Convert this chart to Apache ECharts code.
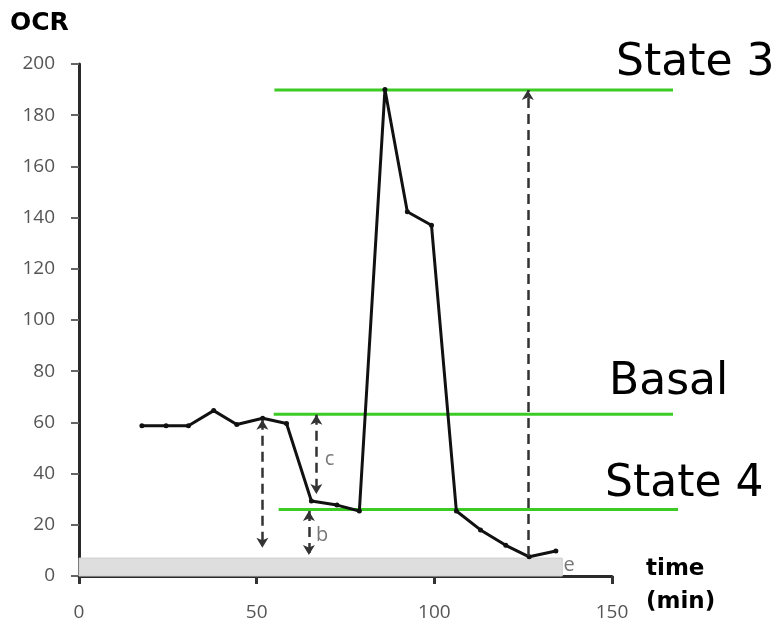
<!DOCTYPE html>
<html>
<head>
<meta charset="utf-8">
<script src="https://cdn.jsdelivr.net/npm/echarts@6/dist/echarts.min.js"></script>
<style>
    html, body { margin: 0; padding: 0; background: #fff; }
    #chart { width: 777px; height: 622px; }
</style>
</head>
<body>
<div id="chart"></div>
<script>
// OCR trace (time in min, OCR value)
const timeMin = [17.7, 24.5, 30.8, 37.9, 44.4, 51.7, 58.4, 65.4, 72.6, 78.9, 86.1, 92.4, 99.2, 106.2, 113, 120.1, 126.7, 134.2];
const ocrValues = [58.7, 58.7, 58.7, 64.6, 59.2, 61.6, 59.6, 29.3, 27.7, 25.4, 190, 142.3, 137, 25.4, 18, 12, 7.5, 9.8];

// reference levels (drawn past the end of the time axis)
const levelNames = ['State 3', 'Basal', 'State 4'];
const levelValues = [189.8, 63.2, 26.0];
const levelStart = [55.0, 54.8, 56.2];
const levelEnd = [167.2, 167.2, 168.6];

// dashed arrows: x, yFrom, yTo, both heads?
const arrowX = [51.6, 66.8, 64.7, 126.3];
const arrowFrom = [61, 63, 25.4, 7.8];
const arrowTo = [11, 32, 8.2, 189.8];
const arrowBoth = [true, true, true, false];

// small letter labels
const letterText = ['c', 'b', 'e'];
const letterX = [70.5, 68.4, 137.9];
const letterY = [45.7, 16, 4.3];

// grey background band
const bandEndX = 136;
const bandTopY = 7;

const chart = echarts.init(document.getElementById('chart'));

// same scale as the main axes, but wider so the level lines can run on
const greenSeries = levelNames.map((name, i) => ({
    type: 'line',
    name: name,
    xAxisIndex: 1,
    yAxisIndex: 1,
    silent: true,
    symbol: 'none',
    z: 3,
    lineStyle: { color: '#3ccb25', width: 3 },
    data: [[levelStart[i], levelValues[i]], [levelEnd[i], levelValues[i]]]
}));

const arrowLines = arrowX.map((x, i) => [
    { coord: [x, arrowFrom[i]], symbol: arrowBoth[i] ? 'arrow' : 'none' },
    { coord: [x, arrowTo[i]], symbol: 'arrow' }
]);

const bigFont = '44px "DejaVu Sans"';

const option = {
    animation: false,
    grid: [
        { left: 79, top: 64, right: 165, bottom: 46 },
        { left: 79, top: 64, right: 94, bottom: 46 }
    ],
    xAxis: [
        {
            type: 'value',
            gridIndex: 0,
            min: 0,
            max: 150,
            interval: 50,
            splitLine: { show: false },
            axisLine: { show: true, lineStyle: { color: '#2a2a2a', width: 3 } },
            axisTick: { show: true, length: 8, lineStyle: { color: '#333', width: 3 } },
            axisLabel: { color: '#555', fontSize: 19, fontFamily: 'Open Sans', margin: 27 }
        },
        {
            type: 'value',
            gridIndex: 1,
            min: 0,
            max: 170,
            show: false
        }
    ],
    yAxis: [
        {
            type: 'value',
            gridIndex: 0,
            min: 0,
            max: 200,
            interval: 20,
            splitLine: { show: false },
            axisLine: { show: true, lineStyle: { color: '#2a2a2a', width: 3 } },
            axisTick: { show: true, length: 8, lineStyle: { color: '#666', width: 2 } },
            axisLabel: { color: '#555', fontSize: 19, fontFamily: 'Open Sans', margin: 24 }
        },
        {
            type: 'value',
            gridIndex: 1,
            min: 0,
            max: 200,
            show: false
        }
    ],
    graphic: [
        { type: 'text', left: 10, top: 11, style: { text: 'OCR', font: 'bold 25px "DejaVu Sans"', fill: '#000' } },
        { type: 'text', left: 646, top: 553, style: { text: 'time\n(min)', font: 'bold 23px "DejaVu Sans"', lineHeight: 33, fill: '#000' } },
        { type: 'text', left: 616, top: 42, style: { text: levelNames[0], font: bigFont, fill: '#000' } },
        { type: 'text', left: 609, top: 361, style: { text: levelNames[1], font: bigFont, fill: '#000' } },
        { type: 'text', left: 605, top: 463, style: { text: levelNames[2], font: bigFont, fill: '#000' } }
    ],
    series: [
        {
            type: 'line',
            name: 'OCR',
            z: 4,
            symbol: 'circle',
            symbolSize: 5,
            itemStyle: { color: '#111' },
            lineStyle: { color: '#111', width: 3 },
            data: timeMin.map((t, i) => [t, ocrValues[i]]),
            markArea: {
                silent: true,
                itemStyle: { color: '#dedede', borderColor: '#cfcfcf', borderWidth: 1 },
                data: [[{ coord: [0, 0] }, { coord: [bandEndX, bandTopY] }]]
            }
        },
        ...greenSeries,
        {
            type: 'line',
            name: 'arrows',
            data: [],
            z: 2,
            markLine: {
                silent: true,
                symbolSize: [9, 10],
                label: { show: false },
                lineStyle: { color: '#333', width: 2.5, type: [10, 6] },
                data: arrowLines
            }
        },
        {
            type: 'scatter',
            name: 'letters',
            symbolSize: 0,
            silent: true,
            label: {
                show: true,
                position: 'inside',
                color: '#555',
                fontSize: 20,
                fontFamily: 'Open Sans',
                formatter: p => p.value[2]
            },
            data: letterX.map((x, i) => [x, letterY[i], letterText[i]])
        }
    ]
};

chart.setOption(option);
</script>
</body>
</html>
